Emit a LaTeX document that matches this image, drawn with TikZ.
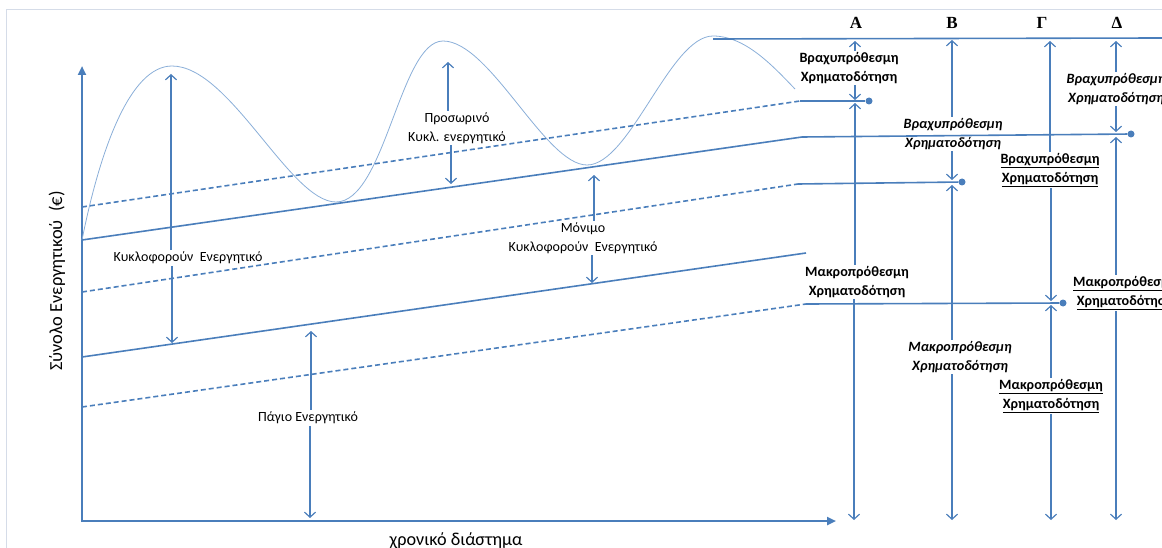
\documentclass[tikz,border=0pt]{standalone}
\usepackage{fontspec}
\setmainfont{Carlito}
\newfontfamily\letterfont{Liberation Serif}
\usetikzlibrary{arrows.meta}
\definecolor{ln}{HTML}{4A7EBB}
\definecolor{wv}{HTML}{8AAED8}
\definecolor{fr}{HTML}{D5DCE8}
\begin{document}
\begin{tikzpicture}[x=1pt,y=-1pt,
  ax/.style={draw=ln, line width=2.4pt, -{Triangle[length=9pt,width=8pt]}},
  mainln/.style={draw=ln, line width=1.6pt},
  dsh/.style={mainln, dash pattern=on 5pt off 3pt},
  wave/.style={draw=wv, line width=0.8pt},
  varr/.style={draw=ln, line width=1.2pt, -{Straight Barb[length=5pt,width=11pt]}},
  lbl/.style={font=\fontsize{14}{18.5}\selectfont, align=center, inner sep=1.5pt},
  fin/.style={font=\bfseries\fontsize{14.2}{18.5}\selectfont, align=center, inner sep=1.5pt},
  fini/.style={font=\bfseries\itshape\fontsize{14.2}{18.5}\selectfont, align=center, inner sep=1.5pt},
  letter/.style={font=\letterfont\bfseries\fontsize{17}{20}\selectfont, inner sep=0pt},
  dotn/.style={circle, fill=ln, inner sep=0pt, minimum size=7pt}
]
\clip (0,0) rectangle (1162,548);
% frame
\draw[fr, line width=1pt] (6,548) -- (6,10) -- (1162,10);

% axes
\coordinate (O) at (82,522);
\coordinate (Ytip) at (82,66);
\coordinate (Xtip) at (836,521);
\draw[ax] (O) -- (Ytip);
\draw[ax] (81,521) -- (Xtip);
\node[rotate=90, font=\fontsize{18.4}{20}\selectfont] (ylab) at (57,281) {Σύνολο Ενεργητικού\ \ (€)};
\node[font=\fontsize{18.2}{20}\selectfont] (xlab) at (456,541) {χρονικό διάστημα};

% wave
\draw[wave] (82,240) .. controls (100,150) and (130,66) .. (172,66)
  .. controls (230,66) and (290,202) .. (336,202)
  .. controls (385,202) and (400,41) .. (443,41)
  .. controls (490,41) and (545,165) .. (587,165)
  .. controls (630,165) and (670,36) .. (713,36)
  .. controls (745,36) and (772,65) .. (795,89);

% dots
\node[dotn] (dA) at (869,101) {};
\node[dotn] (dB) at (962,182) {};
\node[dotn] (dD) at (1131,134) {};
\node[dotn] (dG) at (1063,303) {};

% level lines
\draw[dsh] (82,207) -- (800,101);
\draw[mainln] (800,101) -- (dA);
\draw[mainln] (82,240) -- (802,137) -- (dD);
\draw[dsh] (82,292) -- (798,184);
\draw[mainln] (798,184) -- (dB);
\draw[mainln] (82,357) -- (806,253);
\draw[dsh] (82,407) -- (806,304);
\draw[mainln] (806,304) -- (dG);
\draw[mainln] (713,39) -- (1162,38);

% chart arrows
\coordinate (k1) at (171,74); \coordinate (k2) at (172,343);
\node[lbl] (kl) at (188,258) {Κυκλοφορούν\ \ Ενεργητικό};
\draw[varr] (kl.north -| k1) -- (k1);
\draw[varr] (kl.south -| k2) -- (k2);

\coordinate (p1) at (448,62); \coordinate (p2) at (451,184);
\node[lbl] (pl) at (457,128) {Προσωρινό\\Κυκλ. ενεργητικό};
\draw[varr] (pl.north -| p1) -- (p1);
\draw[varr] (pl.south -| p2) -- (p2);

\coordinate (m1) at (594,175); \coordinate (m2) at (592,283);
\node[lbl] (ml) at (583,238) {Μόνιμο\\Κυκλοφορούν\ \ Ενεργητικό};
\draw[varr] (ml.north -| m1) -- (m1);
\draw[varr] (ml.south -| m2) -- (m2);

\coordinate (g1) at (311,331); \coordinate (g2) at (310,518);
\node[lbl] (gl) at (308,418) {Πάγιο Ενεργητικό};
\draw[varr] (gl.north -| g1) -- (g1);
\draw[varr] (gl.south -| g2) -- (g2);

% column letters
\node[letter] (LA) at (856,23) {Α};
\node[letter] (LB) at (952,23) {Β};
\node[letter] (LG) at (1042,23) {Γ};
\node[letter] (LD) at (1117,23) {Δ};

% column A
\coordinate (At) at (855,41); \coordinate (Am1) at (855,100);
\coordinate (Am2) at (855,103); \coordinate (Ab) at (854,520);
\node[fin] (lA1) at (849,68) {Βραχυπρόθεσμη\\Χρηματοδότηση};
\node[fin] (lA2) at (857,282) {Μακροπρόθεσμη\\Χρηματοδότηση};
\draw[varr] (lA1.north -| At) -- (At);
\draw[varr] (lA1.south -| Am1) -- (Am1);
\draw[varr] (lA2.north -| Am2) -- (Am2);
\draw[varr] (lA2.south -| Ab) -- (Ab);

% column B
\coordinate (Bt) at (952,40); \coordinate (Bm1) at (952,180);
\coordinate (Bm2) at (952,185); \coordinate (Bb) at (952,520);
\node[fini] (lB1) at (953,134) {Βραχυπρόθεσμη\\Χρηματοδότηση};
\node[fini] (lB2) at (960,357) {Μακροπρόθεσμη\\Χρηματοδότηση};
\draw[varr] (lB1.north -| Bt) -- (Bt);
\draw[varr] (lB1.south -| Bm1) -- (Bm1);
\draw[varr] (lB2.north -| Bm2) -- (Bm2);
\draw[varr] (lB2.south -| Bb) -- (Bb);

% column Gamma
\coordinate (Gt) at (1050,41); \coordinate (Gm1) at (1051,301);
\coordinate (Gm2) at (1051,305); \coordinate (Gb) at (1051,520);
\node[fin] (lG1) at (1050,170) {\underline{Βραχυπρόθεσμη}\\\underline{Χρηματοδότηση}};
\node[fin] (lG2) at (1051,396) {\underline{Μακροπρόθεσμη}\\\underline{Χρηματοδότηση}};
\draw[varr] (lG1.north -| Gt) -- (Gt);
\draw[varr] (lG1.south -| Gm1) -- (Gm1);
\draw[varr] (lG2.north -| Gm2) -- (Gm2);
\draw[varr] (lG2.south -| Gb) -- (Gb);

% column Delta
\coordinate (Dt) at (1116,41); \coordinate (Dm1) at (1116,132);
\coordinate (Dm2) at (1116,137); \coordinate (Db) at (1116,520);
\node[fini] (lD1) at (1116,89) {Βραχυπρόθεσμη\\Χρηματοδότηση};
\node[fin] (lD2) at (1125,293) {\underline{Μακροπρόθεσμη}\\\underline{Χρηματοδότηση}};
\draw[varr] (lD1.north -| Dt) -- (Dt);
\draw[varr] (lD1.south -| Dm1) -- (Dm1);
\draw[varr] (lD2.north -| Dm2) -- (Dm2);
\draw[varr] (lD2.south -| Db) -- (Db);
\end{tikzpicture}
\end{document}
